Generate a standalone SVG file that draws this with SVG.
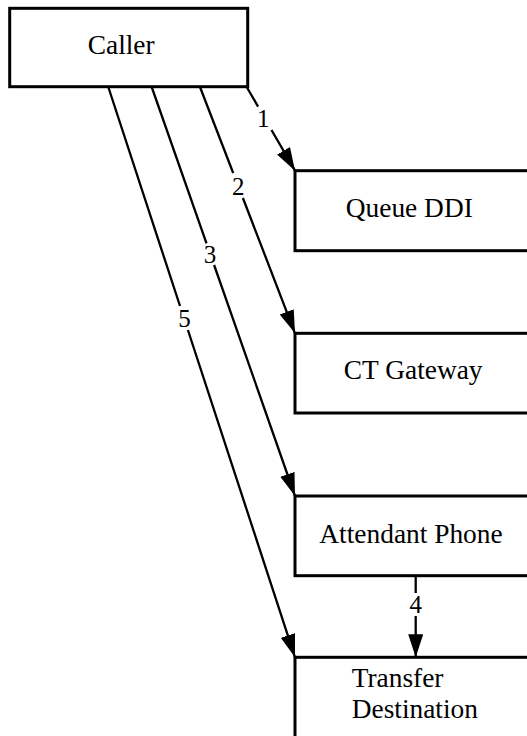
<svg xmlns="http://www.w3.org/2000/svg" width="527" height="736" viewBox="0 0 527 736">
<style>
.box{fill:#fff;stroke:#000;stroke-width:3}
.lbl{font-family:"Liberation Serif","Times New Roman",serif;font-size:27.4px;fill:#000}
.num{font-family:"Liberation Serif","Times New Roman",serif;font-size:25px;fill:#000;text-anchor:middle}
.edge{fill:none;stroke:#000;stroke-width:2.3;marker-end:url(#ah)}
</style>
<defs>
<marker id="ah" markerUnits="userSpaceOnUse" markerWidth="24" markerHeight="16" refX="23" refY="7.5" orient="auto">
<path d="M0,0 L23,7.5 L0,15 z" fill="#000"/>
</marker>
</defs>
<rect width="527" height="736" fill="#fff"/>
<g id="caller">
<rect class="box" x="9.7" y="8.3" width="238" height="78.4"/>
<text class="lbl" x="121.2" y="54.3" text-anchor="middle">Caller</text>
</g>
<g id="queue-ddi">
<rect class="box" x="295" y="170.7" width="240" height="80"/>
<text class="lbl" x="409.3" y="217" text-anchor="middle">Queue DDI</text>
</g>
<g id="ct-gateway">
<rect class="box" x="295" y="333.3" width="240" height="79.7"/>
<text class="lbl" x="413.2" y="379" text-anchor="middle">CT Gateway</text>
</g>
<g id="attendant-phone">
<rect class="box" x="295" y="496" width="240" height="79.7"/>
<text class="lbl" x="411" y="542.7" text-anchor="middle">Attendant Phone</text>
</g>
<g id="transfer-destination">
<rect class="box" x="295" y="657.3" width="240" height="90"/>
<text class="lbl" x="351.7" y="686.7">Transfer</text>
<text class="lbl" x="351.7" y="718.3">Destination</text>
</g>
<g id="connectors">
<path class="edge" d="M246.7,87 L258.1,106.7 M271.5,130 L295,170.7"/>
<text class="num" x="263.3" y="126.7">1</text>
<path class="edge" d="M200,87 L233.2,173 M242.9,198 L295,333.3"/>
<text class="num" x="238.3" y="195">2</text>
<path class="edge" d="M151.7,87 L206.5,243.3 M214.1,265 L295,496"/>
<text class="num" x="210" y="263">3</text>
<path class="edge" d="M415.7,577 L415.7,593 M415.7,616 L415.7,657.3"/>
<text class="num" x="415.7" y="613">4</text>
<path class="edge" d="M108.3,87 L180,306 M187.9,330 L295,657.3"/>
<text class="num" x="184.5" y="327">5</text>
</g>
</svg>
